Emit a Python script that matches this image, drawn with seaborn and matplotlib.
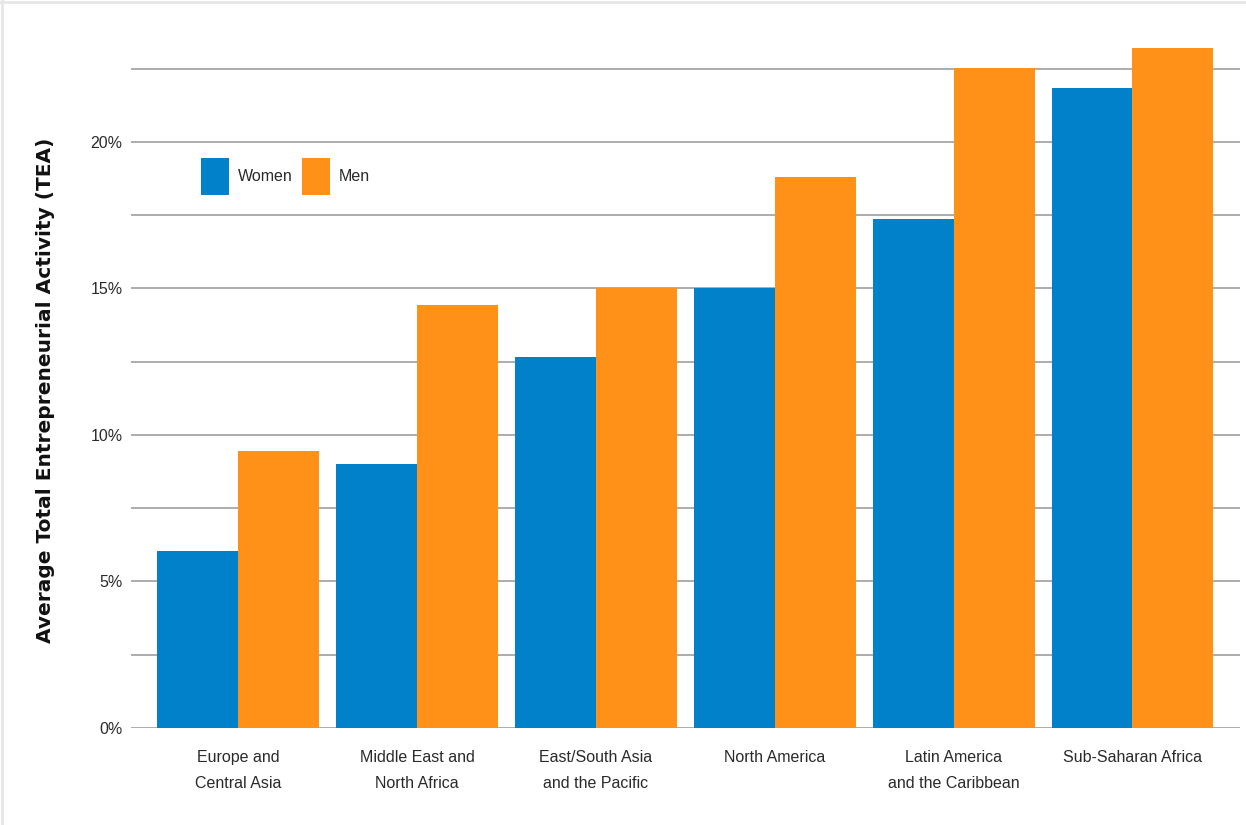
import matplotlib
matplotlib.use("Agg")
import matplotlib.pyplot as plt
from matplotlib.lines import Line2D
from matplotlib.ticker import MultipleLocator, FuncFormatter
import seaborn as sns
import pandas as pd

regions = [
    "Europe and\nCentral Asia",
    "Middle East and\nNorth Africa",
    "East/South Asia\nand the Pacific",
    "North America",
    "Latin America\nand the Caribbean",
    "Sub-Saharan Africa",
]
women = [6.05, 9.0, 12.67, 15.0, 17.38, 21.85]
men = [9.45, 14.42, 15.0, 18.8, 22.52, 23.2]
groups = ["Women", "Men"]
colors = ["#0081CA", "#FF9119"]

df = pd.DataFrame({
    "region": regions * 2,
    "tea": women + men,
    "sex": [groups[0]] * len(regions) + [groups[1]] * len(regions),
})

sns.set_theme(style="white")
plt.rcParams["font.family"] = ["Liberation Sans", "DejaVu Sans"]

fig = plt.figure(figsize=(12.46, 8.25), dpi=100)
ax = fig.add_axes([0.105, 0.1176, 0.89, 0.8364])

sns.barplot(data=df, x="region", y="tea", hue="sex", hue_order=groups,
            palette=colors, width=0.905, gap=0, saturation=1,
            edgecolor="none", linewidth=0, ax=ax, legend=True)

ax.set_xlim(-0.6, 5.6)
ax.set_ylim(0, 23.55)
ax.yaxis.set_major_locator(MultipleLocator(5))
ax.yaxis.set_minor_locator(MultipleLocator(2.5))
ax.yaxis.set_major_formatter(FuncFormatter(lambda v, p: f"{v:.0f}%"))
ax.grid(True, which="both", axis="y", color="#a6a6a6", linewidth=1.3)
ax.set_axisbelow(True)
for s in ax.spines.values():
    s.set_visible(False)
ax.tick_params(axis="both", which="both", length=0, labelsize=11.5,
               labelcolor="#2a2a2a")
ax.tick_params(axis="y", pad=6)
ax.tick_params(axis="x", pad=16)
for lbl in ax.get_xticklabels():
    lbl.set_linespacing(1.9)

ax.set_xlabel("")
ax.set_ylabel("Average Total Entrepreneurial Activity (TEA)",
              family="DejaVu Sans", fontsize=14.5, fontweight="bold",
              color="#111111")
ax.yaxis.set_label_coords(-0.0685, 0.49)

leg = ax.legend(loc="upper left", bbox_to_anchor=(0.063, 0.826), ncol=2,
                frameon=False, fontsize=11.5, borderpad=0, borderaxespad=0,
                handlelength=1.75, handleheight=3.15, columnspacing=0.6,
                handletextpad=0.56)
for t in leg.get_texts():
    t.set_color("#2a2a2a")

# thin light frame along the top and left edges of the figure
fig.add_artist(Line2D([0, 1], [0.998, 0.998], color="#e6e6e6", linewidth=2,
                      transform=fig.transFigure))
fig.add_artist(Line2D([0.002, 0.002], [0, 1], color="#e6e6e6", linewidth=2,
                      transform=fig.transFigure))

fig.savefig("out.png", dpi=100)
